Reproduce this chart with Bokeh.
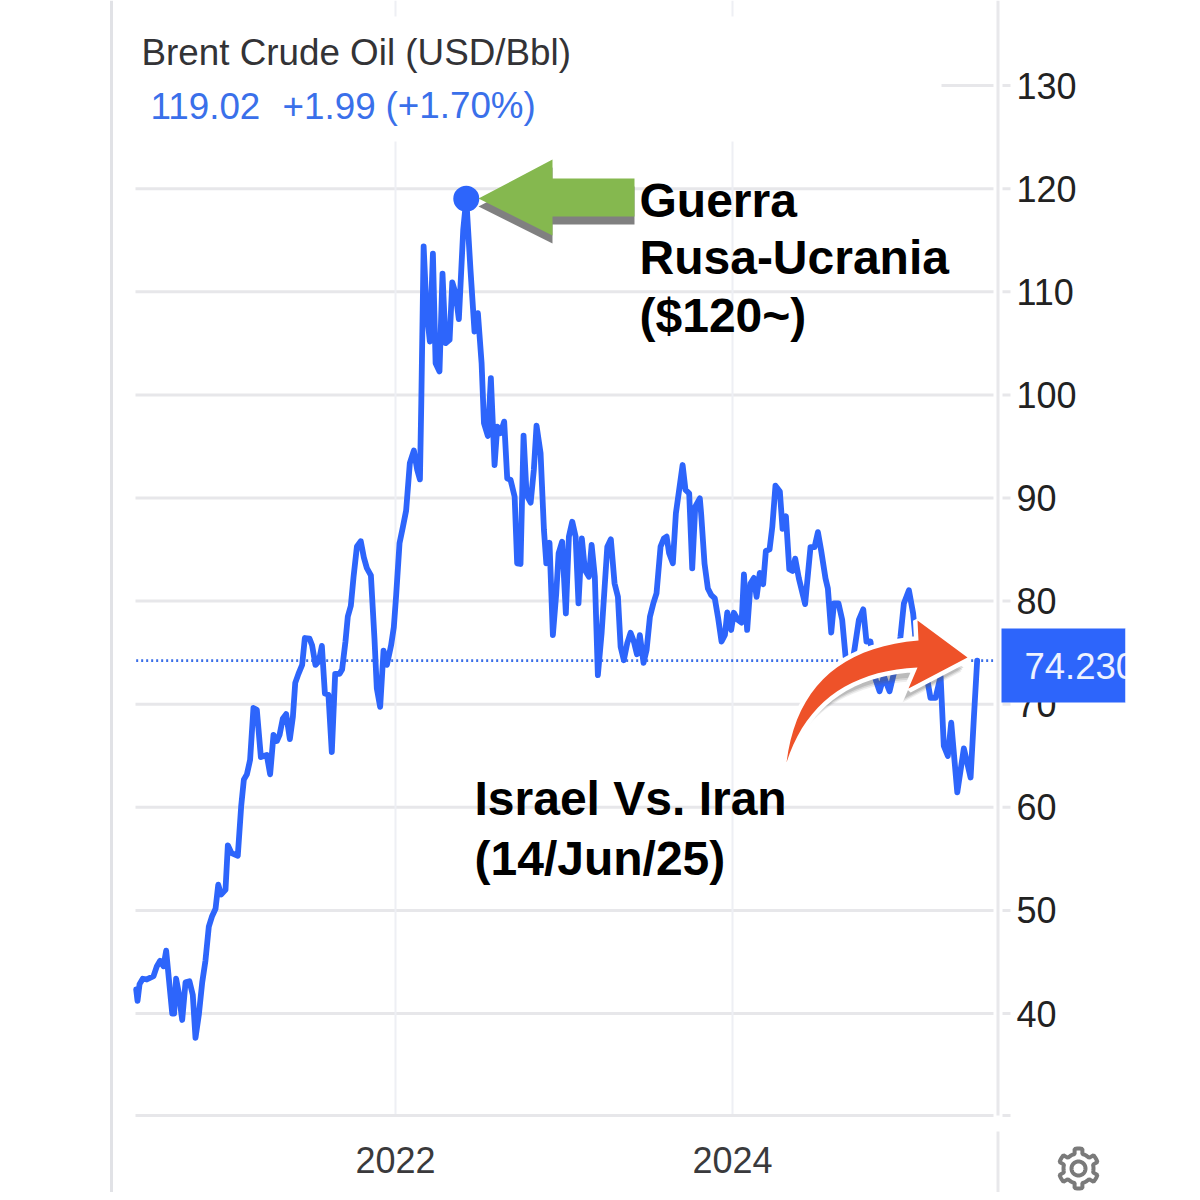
import numpy as np
from bokeh.embed import file_html
from bokeh.resources import INLINE
from bokeh.plotting import figure
from bokeh.models import (BoxAnnotation, FixedTicker, Label, LinearAxis, PolyAnnotation, Range1d)

TITLE = "Brent Crude Oil (USD/Bbl)"
PEAK_DATE = 2022.42
PEAK_VALUE = 119.02
LAST_VALUE = 74.23
Y_TICKS = [40, 50, 60, 70, 80, 90, 100, 110, 120, 130]
X_TICKS = [2022, 2024]

DATES_2020 = [2020.461, 2020.469, 2020.481, 2020.500, 2020.524, 2020.564, 2020.584, 2020.603, 2020.623, 2020.639,
              2020.655, 2020.675, 2020.686, 2020.698, 2020.714, 2020.734, 2020.754, 2020.777, 2020.797, 2020.813,
              2020.833, 2020.853, 2020.872, 2020.892, 2020.912, 2020.932, 2020.948, 2020.965, 2020.991]
PRICES_2020 = [42.33, 41.22, 42.85, 43.37, 43.3, 43.62, 44.59, 45.11, 44.59, 46.09,
               43.37, 40.0, 40.0, 43.37, 41.98, 39.37, 43.03, 43.13, 41.81, 37.63,
               39.9, 43.03, 45.11, 48.42, 49.46, 50.16, 52.49, 51.55, 52.0]

DATES_2021 = [2021.005, 2021.027, 2021.064, 2021.084, 2021.100, 2021.118, 2021.137, 2021.157, 2021.177, 2021.201,
              2021.236, 2021.256, 2021.276, 2021.296, 2021.312, 2021.331, 2021.351, 2021.373, 2021.391, 2021.405,
              2021.424, 2021.446, 2021.462, 2021.490, 2021.505, 2021.525, 2021.545, 2021.563, 2021.581, 2021.602,
              2021.622, 2021.642, 2021.668, 2021.683, 2021.703, 2021.717, 2021.735, 2021.751, 2021.771, 2021.794,
              2021.812, 2021.830, 2021.854, 2021.875, 2021.889, 2021.909, 2021.929, 2021.949, 2021.974, 2021.990]
PRICES_2021 = [56.31, 55.55, 55.3, 60.07, 62.68, 63.2, 64.59, 69.63, 69.46, 64.87,
               65.08, 63.2, 67.03, 66.43, 67.03, 68.59, 69.04, 66.61, 68.77, 72.07,
               72.94, 73.81, 76.42, 76.35, 75.72, 73.81, 74.16, 75.65, 71.03, 70.92,
               65.36, 72.94, 72.94, 73.36, 76.07, 78.5, 79.55, 82.33, 85.29, 85.81,
               84.24, 83.2, 82.5, 76.42, 71.55, 69.74, 75.2, 73.81, 75.72, 77.46]

DATES_2022 = [2022.004, 2022.024, 2022.044, 2022.063, 2022.085, 2022.109, 2022.129, 2022.145, 2022.153, 2022.167,
              2022.184, 2022.204, 2022.222, 2022.238, 2022.261, 2022.279, 2022.297, 2022.321, 2022.337, 2022.356,
              2022.376, 2022.402, 2022.420, 2022.445, 2022.469, 2022.489, 2022.511, 2022.525, 2022.548, 2022.566,
              2022.588, 2022.604, 2022.623, 2022.645, 2022.663, 2022.683, 2022.707, 2022.722, 2022.742, 2022.760,
              2022.778, 2022.802, 2022.821, 2022.837, 2022.861, 2022.881, 2022.895, 2022.914, 2022.934, 2022.954,
              2022.968, 2022.989]
PRICES_2022 = [80.59, 85.63, 87.2, 88.77, 93.37, 94.6, 92.72, 91.81, 99.19, 114.4,
               108.25, 105.18, 113.69, 103.07, 102.27, 111.75, 105.02, 105.34, 110.91, 109.87,
               107.35, 116.02, 119.02, 112.14, 106.15, 107.93, 103.07, 97.25, 96.02, 101.62,
               93.2, 96.93, 96.28, 97.41, 91.91, 91.75, 90.13, 83.66, 83.6, 96.05,
               90.29, 89.55, 92.72, 97.02, 94.34, 86.89, 83.66, 85.66, 76.7, 80.74,
               84.63, 85.76]

DATES_2023 = [2023.011, 2023.029, 2023.049, 2023.069, 2023.086, 2023.106, 2023.124, 2023.148, 2023.164, 2023.183,
              2023.201, 2023.223, 2023.257, 2023.278, 2023.300, 2023.320, 2023.336, 2023.355, 2023.375, 2023.395,
              2023.415, 2023.433, 2023.450, 2023.472, 2023.490, 2023.510, 2023.530, 2023.549, 2023.573, 2023.593,
              2023.609, 2023.624, 2023.646, 2023.664, 2023.704, 2023.721, 2023.743, 2023.761, 2023.779, 2023.806,
              2023.814, 2023.834, 2023.854, 2023.874, 2023.895, 2023.915, 2023.935, 2023.955, 2023.969, 2023.992]
PRICES_2023 = [78.8, 86.25, 87.7, 86.25, 79.77, 86.08, 83.01, 82.36, 85.44, 82.36,
               72.82, 76.86, 85.28, 85.99, 81.72, 80.42, 75.57, 74.27, 75.89, 76.93,
               76.05, 74.85, 76.7, 74.01, 75.24, 78.48, 79.77, 80.74, 85.28, 86.08,
               86.25, 84.63, 83.66, 88.51, 93.2, 90.78, 90.45, 83.17, 89.16, 89.97,
               88.46, 83.63, 81.22, 80.58, 80.26, 78.33, 76.08, 76.72, 78.91, 77.2]

DATES_2024 = [2024.008, 2024.032, 2024.054, 2024.068, 2024.087, 2024.107, 2024.127, 2024.143, 2024.162, 2024.182,
              2024.198, 2024.220, 2024.236, 2024.255, 2024.281, 2024.297, 2024.317, 2024.337, 2024.356, 2024.372,
              2024.394, 2024.431, 2024.463, 2024.487, 2024.507, 2024.526, 2024.552, 2024.566, 2024.586, 2024.602,
              2024.629, 2024.651, 2024.671, 2024.691, 2024.720, 2024.750, 2024.776, 2024.795, 2024.819, 2024.843,
              2024.873, 2024.898, 2024.932, 2024.958, 2024.981, 2024.997]
PRICES_2024 = [78.87, 78.17, 77.91, 82.6, 77.2, 81.7, 82.25, 80.42, 82.73, 81.64,
               84.86, 85.02, 87.17, 91.19, 90.64, 87.01, 88.23, 83.09, 82.93, 84.12,
               82.19, 79.71, 85.24, 85.24, 86.69, 84.92, 82.19, 81.22, 76.95, 79.77,
               79.77, 78.17, 74.63, 73.02, 74.89, 78.17, 79.2, 76.08, 76.08, 72.7,
               71.25, 72.7, 71.25, 73.02, 74.63, 76.56]

DATES_2025 = [2025.017, 2025.047, 2025.072, 2025.096, 2025.126, 2025.156, 2025.175, 2025.205, 2025.235, 2025.254,
              2025.278, 2025.298, 2025.334, 2025.373, 2025.413, 2025.433, 2025.452]
PRICES_2025 = [79.77, 81.06, 78.81, 74.63, 73.5, 72.38, 70.61, 70.61, 72.7, 65.95,
               64.98, 68.2, 61.45, 65.72, 62.89, 68.84, 74.23]

dates = DATES_2020 + DATES_2021 + DATES_2022 + DATES_2023 + DATES_2024 + DATES_2025
prices = PRICES_2020 + PRICES_2021 + PRICES_2022 + PRICES_2023 + PRICES_2024 + PRICES_2025

GRID = "#e7e7ea"
VGRID = "#eeeff4"
BLUE = "#2d65fb"
FONT = "Liberation Sans"

PX_YEAR = 168.5
PX_USD = 10.31
SIZE = 1192
x0 = 2022 - 395 / PX_YEAR
x1 = 2022 + (SIZE - 395) / PX_YEAR
y1 = 40 + 1013 / PX_USD
y0 = 40 - (SIZE - 1013) / PX_USD


def xd(px):
    return 2022 + (px - 395) / PX_YEAR


def yd(py):
    return 40 - (py - 1013) / PX_USD


p = figure(width=SIZE, height=SIZE, output_backend="svg", toolbar_location=None,
           x_range=Range1d(x0, x1), y_range=Range1d(y0, y1),
           x_axis_location=None, y_axis_location=None, min_border=0)
p.outline_line_color = None
p.background_fill_color = "white"
p.xgrid.visible = False
p.ygrid.visible = False

xaxis = LinearAxis(fixed_location=yd(1115), ticker=FixedTicker(ticks=X_TICKS), bounds=(xd(135), xd(1010)))
yaxis = LinearAxis(fixed_location=xd(1010), ticker=FixedTicker(ticks=Y_TICKS))
xaxis.formatter.use_scientific = False
for ax in (xaxis, yaxis):
    ax.major_tick_line_color = None
    ax.minor_tick_line_color = None
    ax.major_label_text_font = FONT
    ax.major_label_text_font_size = "36px"
xaxis.axis_line_color = GRID
xaxis.axis_line_width = 3
yaxis.axis_line_color = None
yaxis.major_label_standoff = 0
xaxis.major_label_standoff = 25
yaxis.major_label_text_color = "#222222"
xaxis.major_label_text_color = "#3a3a3c"
p.add_layout(xaxis, "below")
p.add_layout(yaxis, "right")


def box(l, r, t, b, color, level="annotation"):
    p.add_layout(BoxAnnotation(left=l, right=r, top=t, bottom=b,
                               left_units="canvas", right_units="canvas",
                               top_units="canvas", bottom_units="canvas",
                               fill_color=color, fill_alpha=1, line_color=None, level=level))


def poly(xs, ys, color, alpha=1.0, line=None, line_width=0):
    p.add_layout(PolyAnnotation(xs=list(xs), ys=list(ys), xs_units="canvas", ys_units="canvas",
                                fill_color=color, fill_alpha=alpha,
                                line_color=line, line_alpha=1.0, line_width=line_width, level="annotation"))


def text(x, y, s, size, color, style="normal", align="left", baseline="alphabetic", level="annotation"):
    p.add_layout(Label(x=x, y=y, x_units="canvas", y_units="canvas", text=s,
                       text_font=FONT, text_font_size=size, text_color=color, text_font_style=style,
                       text_align=align, text_baseline=baseline, level=level))


# gridlines, drawn through the scales from the tick values
n = len(Y_TICKS)
p.segment([xd(135)] * n, Y_TICKS, [xd(1010)] * n, Y_TICKS, line_color=GRID, line_width=3, level="underlay")
p.segment(X_TICKS, [yd(0)] * 2, X_TICKS, [yd(1115)] * 2, line_color=VGRID, line_width=2, level="underlay")

# last-value line and price line
p.line([dates[0], xd(996)], [LAST_VALUE, LAST_VALUE], line_color="#3a6ee8", line_width=2.6, line_dash=[2, 3])
p.line(dates, prices, line_color=BLUE, line_width=5.8, line_join="round", line_cap="round")
p.scatter([PEAK_DATE], [PEAK_VALUE], size=26, fill_color=BLUE, line_color=None)

# frame furniture
box(109.5, 112.5, 0, SIZE, "#e1e2e6")
box(993, 1002, 0, 1131, "white")
box(996, 999, 0, 1115, "#e8e8eb")
box(996, 999, 1131, SIZE, "#e8e8eb")
# legend panel knocks out the grid behind the title
box(134, 941, 16, 141, "white")

# green arrow with its grey shadow
GX = [478, 552, 552, 634, 634, 552, 552]
GY = [198, 159, 178, 178, 216, 216, 235]
poly(GX, [y + 8 for y in GY], "#808080")
poly(GX, GY, "#85b84f")

# red curved arrow with its white edge and soft shadow
t = np.linspace(0, 1, 20)


def bez(a, c, b):
    return ((1 - t) ** 2 * a + 2 * t * (1 - t) * c + t ** 2 * b).tolist()


OX = bez(786, 800, 918)
OY = bez(762, 650, 640)
IX = bez(917, 815, 786)
IY = bez(667, 672, 762)
RX = OX + [917, 967, 908] + IX
RY = OY + [620, 657, 688] + IY
for dx, dy, a in ((-6, 14, 0.10), (-5, 12, 0.16), (-4, 10, 0.2)):
    poly([x + dx for x in RX], [y + dy for y in RY], "#555555", alpha=a)
poly(RX, RY, "white", line="white", line_width=9)
poly([786, 776, 779, 793], [750, 770, 834, 750], "white")
poly(RX, RY, "#ee5229")

# last-price tag
box(1001, 1125, 628, 702, BLUE, level="overlay")
text(1024, 665, f"{LAST_VALUE:.3f}", "36.5px", "#eef2ff", level="overlay", baseline="middle")
box(1125, 1170, 628, 702, "white", level="overlay")

text(141, 52, TITLE, "36.8px", "#333336")
text(150, 105, "119.02", "36.8px", "#3a70ea")
text(282, 105, "+1.99", "36.8px", "#3a70ea")
text(385, 105, "(+1.70%)", "36.8px", "#3a70ea")
text(639, 200, "Guerra", "48px", "black", "bold")
text(639, 257, "Rusa-Ucrania", "48px", "black", "bold")
text(639, 315, "($120~)", "48px", "black", "bold")
text(474, 798, "Israel Vs. Iran", "48px", "black", "bold")
text(474, 858, "(14/Jun/25)", "48px", "black", "bold")

# gear icon
ang = np.linspace(0, 2 * np.pi, 97)[:-1]
rad = np.where(np.cos(6 * ang) > 0.15, 20, 15)
poly(1078 + rad * np.sin(ang), 1168 - rad * np.cos(ang), "white", line="#7a7a7a", line_width=4)
poly(1078 + 7 * np.sin(ang), 1168 - 7 * np.cos(ang), "white", line="#7a7a7a", line_width=4)

open("out.html", "w").write(file_html(p, INLINE))
